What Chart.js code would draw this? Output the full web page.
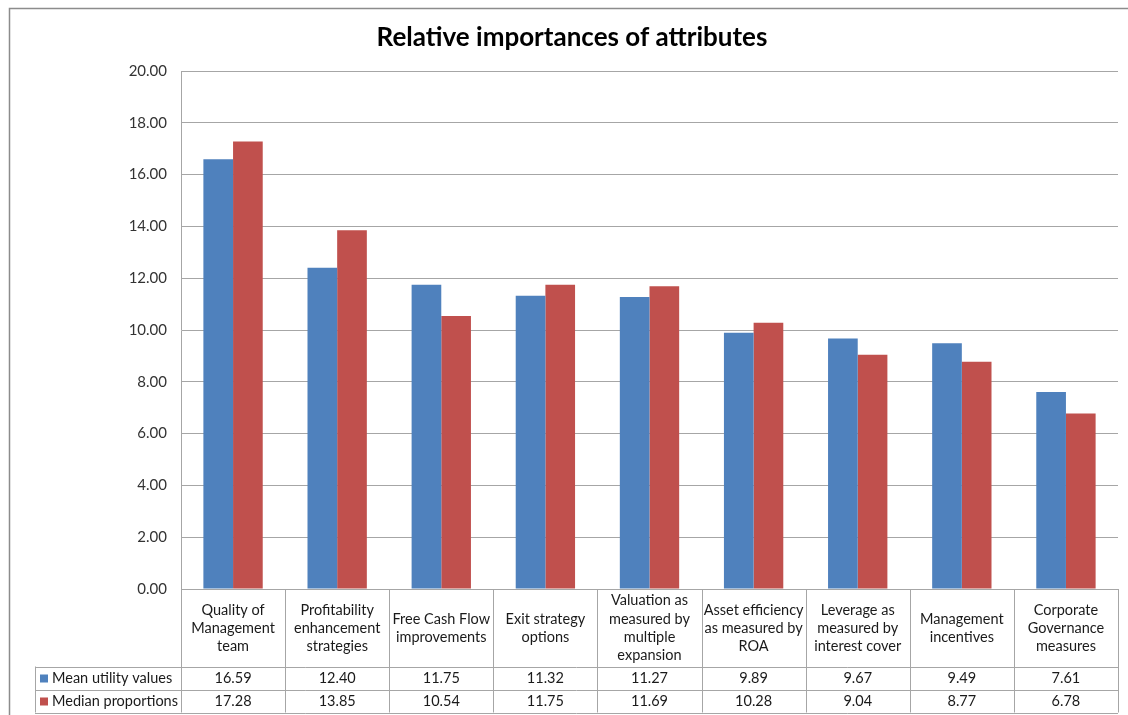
<!DOCTYPE html>
<html>
<head>
<meta charset="utf-8">
<script src="https://cdn.jsdelivr.net/npm/chart.js@4/dist/chart.umd.min.js"></script>
<style>
  html, body { margin: 0; padding: 0; background: #fff; }
  #wrap { width: 1128px; height: 715px; position: relative; }
</style>
</head>
<body>
<div id="wrap"><canvas id="c" width="1128" height="715"></canvas></div>
<script>
// Attribute categories (multi-line header labels of the data table)
const categories = [
  ['Quality of', 'Management', 'team'],
  ['Profitability', 'enhancement', 'strategies'],
  ['Free Cash Flow', 'improvements'],
  ['Exit strategy', 'options'],
  ['Valuation as', 'measured by', 'multiple', 'expansion'],
  ['Asset efficiency', 'as measured by', 'ROA'],
  ['Leverage as', 'measured by', 'interest cover'],
  ['Management', 'incentives'],
  ['Corporate', 'Governance', 'measures']
];

const seriesNames = ['Mean utility values', 'Median proportions'];
const meanUtility = [16.59, 12.40, 11.75, 11.32, 11.27, 9.89, 9.67, 9.49, 7.61];
const medianProportions = [17.28, 13.85, 10.54, 11.75, 11.69, 10.28, 9.04, 8.77, 6.78];

const yTicks = [0, 2, 4, 6, 8, 10, 12, 14, 16, 18, 20];

const FONT = 'Lato, "Open Sans", sans-serif';
const LINE = '#a6a6a6';

// Outer frame around the whole chart object
const framePlugin = {
  id: 'frame',
  beforeDraw(chart) {
    const ctx = chart.ctx;
    ctx.save();
    ctx.fillStyle = '#fff';
    ctx.fillRect(0, 0, chart.width, chart.height);
    ctx.strokeStyle = '#8c8c8c';
    ctx.lineWidth = 1.5;
    ctx.strokeRect(9.5, 8.5, chart.width + 20, chart.height + 20);
    ctx.restore();
  }
};

// Data table drawn beneath the plot, aligned to the category scale
const dataTablePlugin = {
  id: 'dataTable',
  afterDraw(chart) {
    const ctx = chart.ctx;
    const x = chart.scales.x;
    const area = chart.chartArea;
    const n = chart.data.labels.length;
    const colW = (area.right - area.left) / n;
    const headerTop = area.bottom;
    const headerBottom = headerTop + 77.5;
    const rowH = 23;
    const tableLeft = 35;
    const rows = chart.data.datasets.length;
    const tableBottom = headerBottom + rowH * rows;

    ctx.save();
    ctx.strokeStyle = LINE;
    ctx.lineWidth = 1;

    // horizontal rules
    for (let r = 0; r <= rows; r++) {
      const y = Math.round(headerBottom + r * rowH) + 0.5;
      ctx.beginPath();
      ctx.moveTo(tableLeft, y);
      ctx.lineTo(area.right, y);
      ctx.stroke();
    }
    // vertical rules
    for (let i = 0; i <= n; i++) {
      const xx = Math.round(area.left + i * colW) + 0.5;
      ctx.beginPath();
      ctx.moveTo(xx, headerTop);
      ctx.lineTo(xx, tableBottom);
      ctx.stroke();
    }
    ctx.beginPath();
    ctx.moveTo(tableLeft + 0.5, headerBottom);
    ctx.lineTo(tableLeft + 0.5, tableBottom);
    ctx.stroke();

    ctx.fillStyle = '#1a1a1a';
    ctx.font = '14.5px ' + FONT;
    ctx.textAlign = 'center';
    ctx.textBaseline = 'middle';

    // category header labels
    const lh = 18.3;
    const midHeader = (headerTop + headerBottom) / 2 + 0.5;
    chart.data.labels.forEach((lines, i) => {
      const cx = x.getPixelForValue(i);
      const startY = midHeader - (lines.length - 1) * lh / 2;
      lines.forEach((t, k) => ctx.fillText(t, cx, startY + k * lh));
    });

    // series rows: swatch, name, values
    chart.data.datasets.forEach((ds, r) => {
      const cy = headerBottom + r * rowH + rowH / 2 + 0.5;
      ctx.fillStyle = ds.backgroundColor;
      ctx.fillRect(40, cy - 4, 8, 8);
      ctx.fillStyle = '#1a1a1a';
      ctx.textAlign = 'left';
      ctx.fillText(ds.label, 52, cy);
      ctx.textAlign = 'center';
      ds.data.forEach((v, i) => {
        ctx.fillText(v.toFixed(2), x.getPixelForValue(i), cy);
      });
    });
    ctx.restore();
  }
};

new Chart(document.getElementById('c'), {
  type: 'bar',
  data: {
    labels: categories,
    datasets: [
      { label: seriesNames[0], data: meanUtility, backgroundColor: '#4f81bd' },
      { label: seriesNames[1], data: medianProportions, backgroundColor: '#c0504d' }
    ]
  },
  options: {
    responsive: false,
    animation: false,
    devicePixelRatio: 1,
    layout: { padding: { left: 26, right: 10, top: 0, bottom: 0 } },
    datasets: { bar: { categoryPercentage: 0.57, barPercentage: 1.0 } },
    plugins: {
      legend: { display: false },
      tooltip: { enabled: false },
      title: {
        display: true,
        text: 'Relative importances of attributes',
        color: '#000',
        font: { family: FONT, size: 26, weight: 'bold', lineHeight: 1.2 },
        padding: { top: 22, bottom: 17.8 }
      }
    },
    scales: {
      x: {
        grid: { display: false },
        border: { display: false },
        ticks: { display: false },
        afterFit(scale) { scale.height = 126; }
      },
      y: {
        min: 0,
        max: 20,
        afterBuildTicks(scale) { scale.ticks = yTicks.map(v => ({ value: v })); },
        afterFit(scale) { scale.width = 155; },
        grid: { color: LINE, lineWidth: 1, drawTicks: false },
        border: { display: true, color: LINE, width: 1 },
        ticks: {
          padding: 14,
          color: '#333',
          font: { family: FONT, size: 15 },
          callback: v => Number(v).toFixed(2)
        }
      }
    }
  },
  plugins: [framePlugin, dataTablePlugin]
});
</script>
</body>
</html>
